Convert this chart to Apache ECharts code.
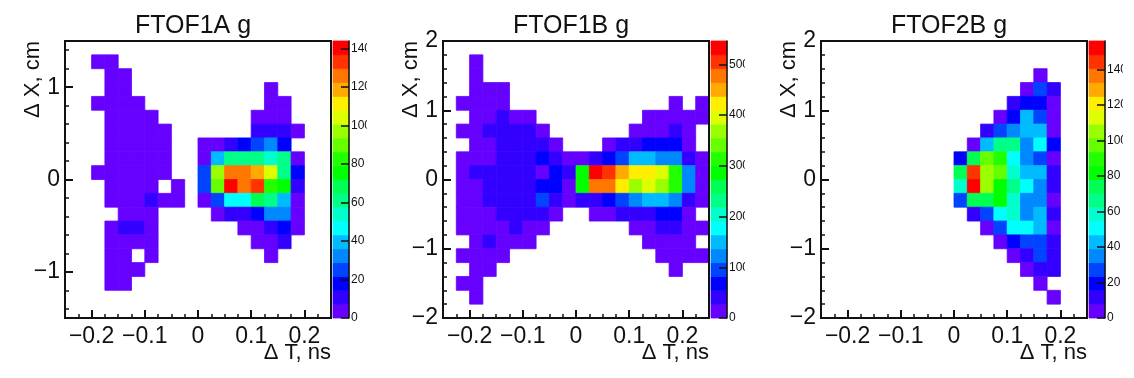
<!DOCTYPE html>
<html>
<head>
<meta charset="utf-8">
<title>FTOF residuals</title>
<script src="https://cdn.jsdelivr.net/npm/echarts@6/dist/echarts.min.js"></script>
<style>
  html, body { margin: 0; padding: 0; background: #fff; }
  .pad { position: absolute; top: 0; width: 367px; height: 378px; overflow: hidden; }
</style>
</head>
<body>
<div class="pad" id="pad1" style="left:0"></div>
<div class="pad" id="pad2" style="left:378px"></div>
<div class="pad" id="pad3" style="left:756px"></div>
<script>
const _ = null;

// counts per bin, rows from the top of the plot, columns from the left
const ftof1aCounts = [
  [_,_,_,_,_,_,_,_,_,_,_,_,_,_,_,_,_,_,_,_],
  [_,_,4,4,_,_,_,_,_,_,_,_,_,_,_,_,_,_,_,_],
  [_,_,_,4,4,_,_,_,_,_,_,_,_,_,_,_,_,_,_,_],
  [_,_,_,4,4,_,_,_,_,_,_,_,_,_,_,4,_,_,_,_],
  [_,_,4,4,4,4,_,_,_,_,_,_,_,_,_,4,4,_,_,_],
  [_,_,_,4,4,4,4,_,_,_,_,_,_,_,4,4,4,_,_,_],
  [_,_,_,4,4,4,4,4,_,_,_,_,_,_,11,11,11,4,_,_],
  [_,_,_,4,4,4,4,4,_,_,4,4,11,18,25,32,18,_,_,_],
  [_,_,_,4,4,4,4,4,_,_,4,40,61,61,61,54,61,4,_,_],
  [_,_,4,4,4,4,4,4,_,_,25,97,126,126,119,104,61,18,_,_],
  [_,_,_,4,4,4,4,_,4,_,25,90,140,126,133,83,76,11,_,_],
  [_,_,_,4,4,4,11,4,4,_,4,25,47,47,68,61,40,4,_,_],
  [_,_,_,_,4,4,4,_,_,_,_,4,11,11,18,32,32,4,_,_],
  [_,_,_,4,11,11,4,_,_,_,_,_,_,4,4,11,18,4,_,_],
  [_,_,_,4,4,4,4,_,_,_,_,_,_,_,4,4,11,_,_,_],
  [_,_,_,4,4,_,4,_,_,_,_,_,_,_,_,4,_,_,_,_],
  [_,_,_,4,4,4,_,_,_,_,_,_,_,_,_,_,_,_,_,_],
  [_,_,_,4,4,_,_,_,_,_,_,_,_,_,_,_,_,_,_,_],
  [_,_,_,_,_,_,_,_,_,_,_,_,_,_,_,_,_,_,_,_],
  [_,_,_,_,_,_,_,_,_,_,_,_,_,_,_,_,_,_,_,_]
];

const ftof1bCounts = [
  [_,_,_,_,_,_,_,_,_,_,_,_,_,_,_,_,_,_,_,_],
  [_,_,14,_,_,_,_,_,_,_,_,_,_,_,_,_,_,_,_,_],
  [_,_,14,_,_,_,_,_,_,_,_,_,_,_,_,_,_,_,_,_],
  [_,_,14,14,14,_,_,_,_,_,_,_,_,_,_,_,_,_,_,_],
  [_,14,14,14,14,_,_,_,_,_,_,_,_,_,_,_,_,14,_,14],
  [_,_,14,14,41,14,14,_,_,_,_,_,_,_,_,14,14,14,14,14],
  [_,14,14,41,41,41,41,14,_,_,_,_,_,_,14,14,14,41,14,_],
  [_,_,14,14,41,41,41,41,14,_,_,_,14,41,41,68,68,68,14,_],
  [_,14,14,14,41,41,41,68,41,14,14,41,68,96,150,150,123,123,41,14],
  [_,14,41,41,41,41,41,20,68,41,287,532,505,450,423,423,396,314,123,14],
  [_,14,14,41,41,41,41,68,68,14,300,478,478,423,369,396,369,314,123,14],
  [_,14,14,41,41,41,41,96,41,14,41,41,68,96,123,150,150,123,41,14],
  [_,14,14,14,41,41,41,41,14,_,_,14,14,41,41,41,68,68,14,_],
  [_,14,14,14,14,41,14,14,_,_,_,_,_,_,14,14,41,41,14,14],
  [_,_,14,41,14,14,14,_,_,_,_,_,_,_,_,14,14,14,14,_],
  [_,14,14,14,14,_,_,_,_,_,_,_,_,_,_,_,14,14,14,14],
  [_,_,14,14,_,_,_,_,_,_,_,_,_,_,_,_,_,14,_,_],
  [_,14,14,_,_,_,_,_,_,_,_,_,_,_,_,_,_,_,_,_],
  [_,_,14,_,_,_,_,_,_,_,_,_,_,_,_,_,_,_,_,_],
  [_,_,_,_,_,_,_,_,_,_,_,_,_,_,_,_,_,_,_,_]
];

const ftof2bCounts = [
  [_,_,_,_,_,_,_,_,_,_,_,_,_,_,_,_,_,_,_,_],
  [_,_,_,_,_,_,_,_,_,_,_,_,_,_,_,_,_,_,_,_],
  [_,_,_,_,_,_,_,_,_,_,_,_,_,_,_,_,4,_,_,_],
  [_,_,_,_,_,_,_,_,_,_,_,_,_,_,_,4,27,12,_,_],
  [_,_,_,_,_,_,_,_,_,_,_,_,_,_,12,20,20,4,_,_],
  [_,_,_,_,_,_,_,_,_,_,_,_,_,4,20,43,27,4,_,_],
  [_,_,_,_,_,_,_,_,_,_,_,_,12,27,35,43,43,4,_,_],
  [_,_,_,_,_,_,_,_,_,_,_,4,43,66,66,35,51,20,_,_],
  [_,_,_,_,_,_,_,_,_,_,20,74,98,90,51,35,27,4,_,_],
  [_,_,_,_,_,_,_,_,_,_,74,144,105,98,58,43,43,12,_,_],
  [_,_,_,_,_,_,_,_,_,_,58,152,105,82,66,51,35,12,_,_],
  [_,_,_,_,_,_,_,_,_,_,27,74,74,82,58,35,35,4,_,_],
  [_,_,_,_,_,_,_,_,_,_,_,12,27,51,58,35,43,12,_,_],
  [_,_,_,_,_,_,_,_,_,_,_,_,4,27,51,51,43,4,_,_],
  [_,_,_,_,_,_,_,_,_,_,_,_,_,4,20,27,27,12,_,_],
  [_,_,_,_,_,_,_,_,_,_,_,_,_,_,4,12,27,12,_,_],
  [_,_,_,_,_,_,_,_,_,_,_,_,_,_,_,4,12,12,_,_],
  [_,_,_,_,_,_,_,_,_,_,_,_,_,_,_,_,4,_,_,_],
  [_,_,_,_,_,_,_,_,_,_,_,_,_,_,_,_,_,4,_,_],
  [_,_,_,_,_,_,_,_,_,_,_,_,_,_,_,_,_,_,_,_]
];

const palette = ['#6600ff', '#3300ff', '#0000ff', '#0044ff', '#0088ff', '#00bbff', '#00ffff', '#00ffcc', '#00ff88', '#00ff55',
                 '#00ff00', '#22ff00', '#66ff00', '#99ff00', '#ddff00', '#ffee00', '#ffaa00', '#ff7700', '#ff3300', '#ff0000'];

const xMajorTicks = [-0.2, -0.1, 0, 0.1, 0.2];
const xMinorTicks = [-0.225, -0.2, -0.175, -0.15, -0.125, -0.1, -0.075, -0.05, -0.025, 0, 0.025, 0.05, 0.075, 0.1, 0.125, 0.15, 0.175, 0.2, 0.225];
const yMajor1a = [-1, 0, 1];
const yMinor1a = [-1.4, -1.2, -1, -0.8, -0.6, -0.4, -0.2, 0, 0.2, 0.4, 0.6, 0.8, 1, 1.2, 1.4];
const yMajorWide = [-2, -1, 0, 1, 2];
const yMinorWide = [-1.8, -1.6, -1.4, -1.2, -1, -0.8, -0.6, -0.4, -0.2, 0, 0.2, 0.4, 0.6, 0.8, 1, 1.2, 1.4, 1.6, 1.8];
const zTicks1a = [0, 20, 40, 60, 80, 100, 120, 140];
const zTicks1b = [0, 100, 200, 300, 400, 500];
const zTicks2b = [0, 20, 40, 60, 80, 100, 120, 140];

const INK = '#111';
const FONT = '"Liberation Sans", Arial, sans-serif';

function fmtTick(v) {
    return String(v).replace('-', '\u2212');
}

function binRect(params, api) {
    const a = api.coord([api.value(0), api.value(1)]);
    const b = api.coord([api.value(2), api.value(3)]);
    const color = palette[api.value(4)];
    return {
        type: 'rect',
        shape: { x: a[0], y: b[1], width: b[0] - a[0], height: a[1] - b[1] },
        // thin stroke of the same colour closes the antialiasing seams between bins
        style: { fill: color, stroke: color, lineWidth: 0.8 }
    };
}

function drawPad(domId, title, counts, yRange, yMajor, yMinor, zMax, zTicks) {
    const chart = echarts.init(document.getElementById(domId));
    const xMin = -0.25, xBin = 0.025;
    const yBin = (yRange * 2) / 20;
    const zBin = zMax / palette.length;

    const cells = [];
    counts.forEach((row, r) => {
        row.forEach((v, c) => {
            if (v === null) return;
            const x0 = xMin + c * xBin;
            const y1 = yRange - r * yBin;
            cells.push([x0, y1 - yBin, x0 + xBin, y1, Math.min(Math.floor(v / zBin), palette.length - 1)]);
        });
    });
    const bands = palette.map((c, i) => [0, i * zBin, 1, (i + 1) * zBin, i]);

    chart.setOption({
        animation: false,
        title: {
            text: title, left: 188, top: 9, textAlign: 'center',
            textStyle: { fontFamily: FONT, fontSize: 25, fontWeight: 'normal', color: INK }
        },
        grid: [
            { left: 65, top: 41, width: 266, height: 277, outerBoundsMode: 'none', show: true, z: 5, borderColor: INK, borderWidth: 2, backgroundColor: 'transparent' },
            { left: 333, top: 41, width: 16, height: 277, outerBoundsMode: 'none' }
        ],
        xAxis: [
            {
                gridIndex: 0, type: 'value', min: xMin, max: 0.25, position: 'bottom',
                axisLine: { show: false, onZero: false }, splitLine: { show: false }, axisLabel: { show: false },
                axisTick: { show: true, inside: true, length: 4, customValues: xMinorTicks, lineStyle: { color: INK, width: 1.5 } }
            },
            {
                gridIndex: 0, type: 'value', min: xMin, max: 0.25, position: 'bottom',
                axisLine: { show: false, onZero: false }, splitLine: { show: false },
                axisTick: { show: true, inside: true, length: 8, customValues: xMajorTicks, lineStyle: { color: INK, width: 2 } },
                axisLabel: { customValues: xMajorTicks, formatter: fmtTick, margin: 7, fontFamily: FONT, fontSize: 23, color: INK },
                name: '\u0394 T, ns', nameLocation: 'end', nameGap: 0, nameMoveOverlap: false,
                nameTextStyle: { fontFamily: FONT, fontSize: 22, color: INK, align: 'right', verticalAlign: 'top', padding: [24, 0, 0, 0] }
            },
            { gridIndex: 1, type: 'value', min: 0, max: 1, show: false }
        ],
        yAxis: [
            {
                gridIndex: 0, type: 'value', min: -yRange, max: yRange, position: 'left',
                axisLine: { show: false, onZero: false }, splitLine: { show: false }, axisLabel: { show: false },
                axisTick: { show: true, inside: true, length: 4, customValues: yMinor, lineStyle: { color: INK, width: 1.5 } }
            },
            {
                gridIndex: 0, type: 'value', min: -yRange, max: yRange, position: 'left',
                axisLine: { show: false, onZero: false }, splitLine: { show: false },
                axisTick: { show: true, inside: true, length: 8, customValues: yMajor, lineStyle: { color: INK, width: 2 } },
                axisLabel: { customValues: yMajor, formatter: fmtTick, margin: 5, fontFamily: FONT, fontSize: 23, color: INK },
                name: '\u0394 X, cm', nameLocation: 'end', nameGap: 0, nameRotate: 90, nameMoveOverlap: false,
                nameTextStyle: { fontFamily: FONT, fontSize: 22, color: INK, align: 'right', verticalAlign: 'bottom', padding: [0, 0, 21, 0] }
            },
            {
                gridIndex: 1, type: 'value', min: 0, max: zMax, position: 'right', z: 6,
                axisLine: { show: true, onZero: false, lineStyle: { color: INK, width: 1.5 } }, splitLine: { show: false },
                axisTick: { show: true, inside: true, length: 8, customValues: zTicks, lineStyle: { color: INK, width: 1.5 } },
                axisLabel: { customValues: zTicks, margin: 2, fontFamily: FONT, fontSize: 12, color: INK }
            }
        ],
        series: [
            {
                type: 'custom', xAxisIndex: 0, yAxisIndex: 0, renderItem: binRect,
                encode: { x: [0, 2], y: [1, 3] }, data: cells, silent: true
            },
            {
                type: 'custom', xAxisIndex: 2, yAxisIndex: 2, renderItem: binRect,
                encode: { x: [0, 2], y: [1, 3] }, data: bands, silent: true
            }
        ]
    });
}

drawPad('pad1', 'FTOF1A g', ftof1aCounts, 1.5, yMajor1a, yMinor1a, 144, zTicks1a);
drawPad('pad2', 'FTOF1B g', ftof1bCounts, 2, yMajorWide, yMinorWide, 546, zTicks1b);
drawPad('pad3', 'FTOF2B g', ftof2bCounts, 2, yMajorWide, yMinorWide, 156, zTicks2b);
</script>
</body>
</html>
